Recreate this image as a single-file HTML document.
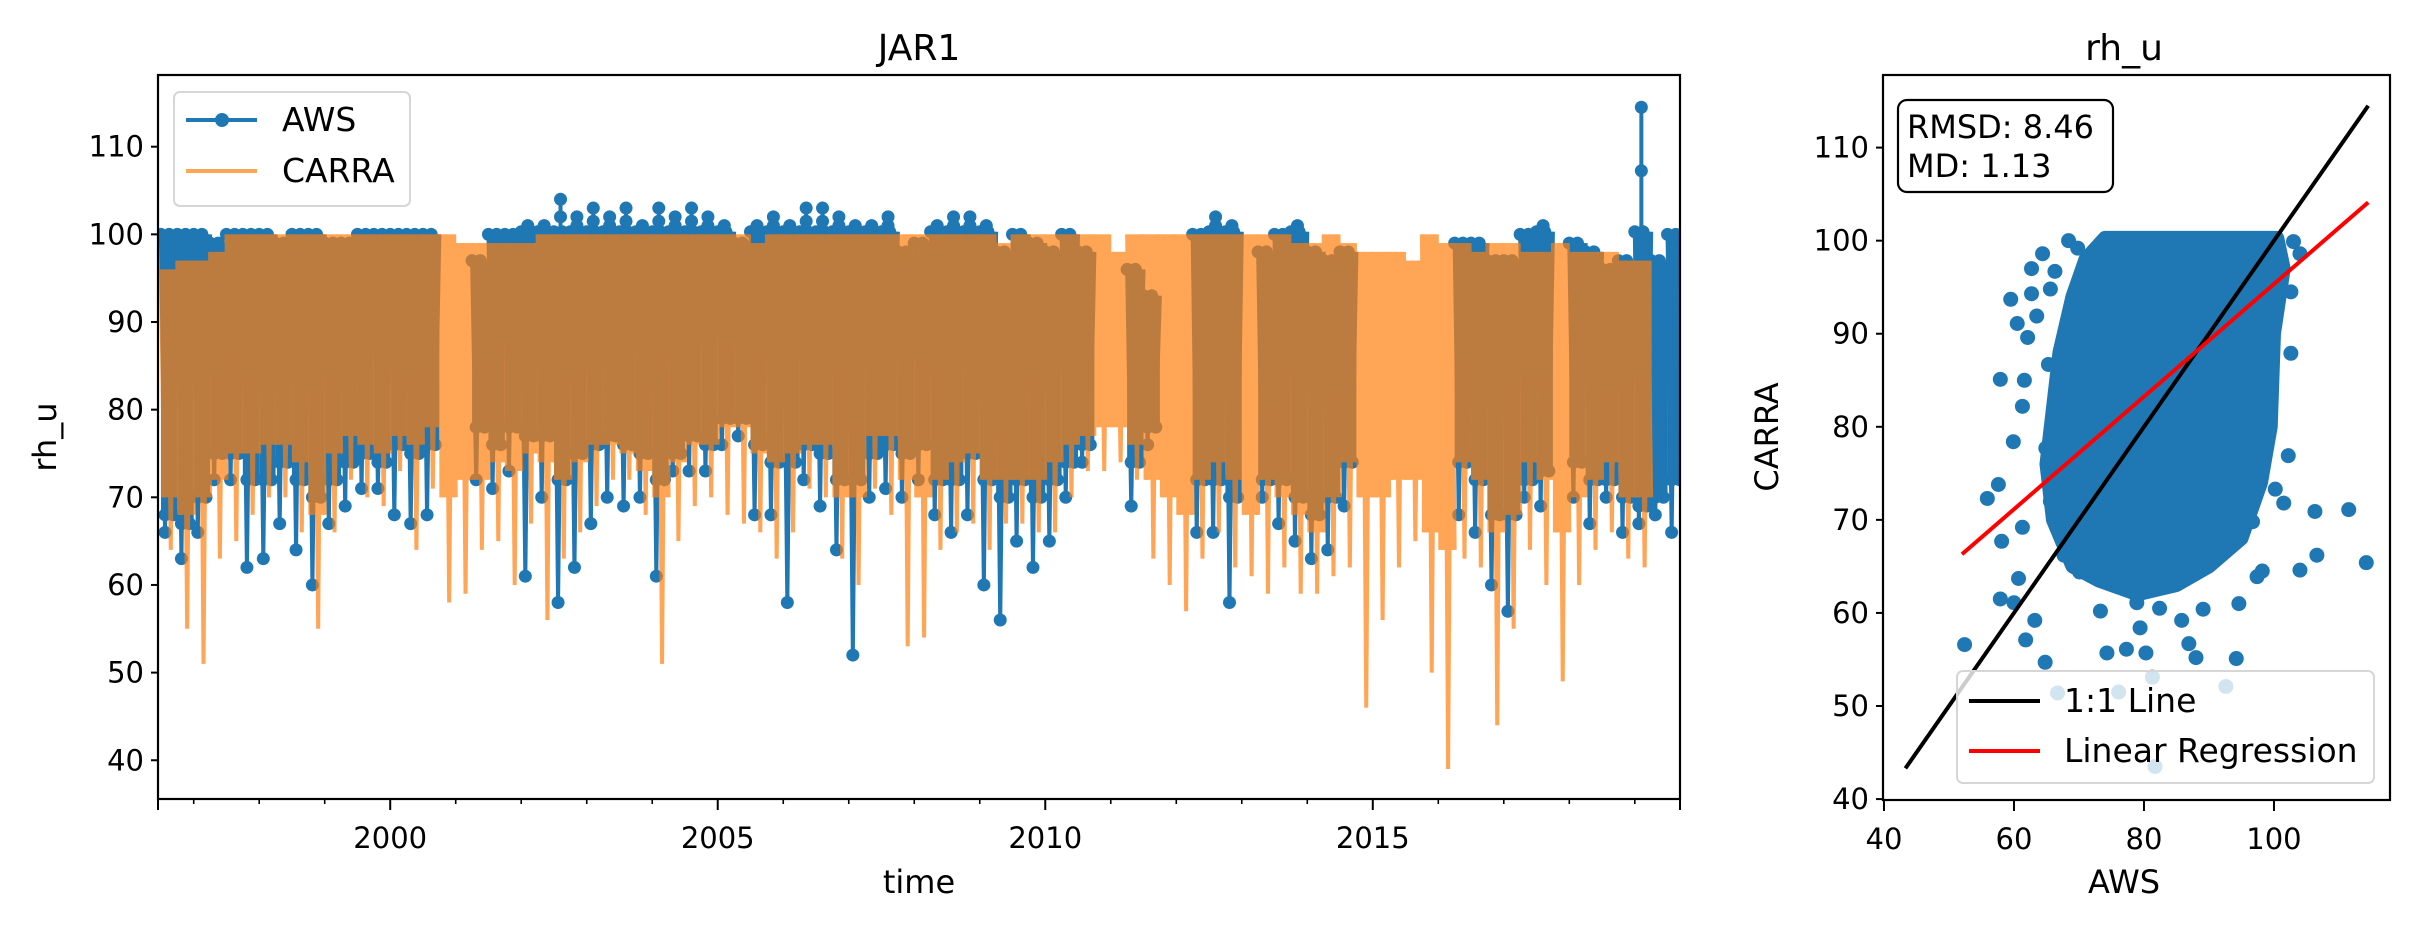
<!DOCTYPE html>
<html>
<head>
<meta charset="utf-8">
<style>
html,body{margin:0;padding:0;background:#fff;}
svg{display:block;}
text{font-family:"DejaVu Sans","Liberation Sans",sans-serif;fill:#000;}
</style>
</head>
<body>
<svg id="fig" width="2414" height="926" viewBox="0 0 2414 926" xmlns="http://www.w3.org/2000/svg">
  <rect x="0" y="0" width="2414" height="926" fill="#fff"/>
  <g id="left">
    <g id="tsMarks"></g>
    <rect x="158" y="75" width="1522" height="724" fill="none" stroke="#000" stroke-width="2.2"/>
    <g id="tsAxes"></g>
    <text x="919" y="60" font-size="36" text-anchor="middle">JAR1</text>
    <text x="919" y="893" font-size="32" text-anchor="middle">time</text>
    <text transform="translate(56,437) rotate(-90)" font-size="32" text-anchor="middle">rh_u</text>
    <g>
      <rect x="174" y="92" width="236" height="114" rx="6" fill="#fff" fill-opacity="0.8" stroke="#d6d6d6" stroke-width="2"/>
      <g>
        <line x1="186" y1="120" x2="257" y2="120" stroke="#1f77b4" stroke-width="4"/>
        <circle cx="222" cy="120" r="7" fill="#1f77b4"/>
        <text x="282" y="131" font-size="33">AWS</text>
      </g>
      <g>
        <line x1="186" y1="171" x2="257" y2="171" stroke="#ff7f0e" stroke-opacity="0.7" stroke-width="4"/>
        <text x="282" y="182" font-size="33">CARRA</text>
      </g>
    </g>
  </g>
  <g id="right">
    <g id="scMarks"></g>
    <rect x="1883" y="75" width="507" height="725" fill="none" stroke="#000" stroke-width="2.2"/>
    <g id="scAxes"></g>
    <text x="2124" y="60" font-size="36" text-anchor="middle">rh_u</text>
    <text x="2124" y="893" font-size="32" text-anchor="middle">AWS</text>
    <text transform="translate(1778,437) rotate(-90)" font-size="32" text-anchor="middle">CARRA</text>
    <g>
      <rect x="1898" y="100" width="215" height="92" rx="9" fill="#fff" stroke="#000" stroke-width="2.2"/>
      <text x="1907" y="138" font-size="32">RMSD: 8.46</text>
      <text x="1907" y="177" font-size="32">MD: 1.13</text>
    </g>
    <g>
      <rect x="1957" y="671" width="417" height="112" rx="6" fill="#fff" fill-opacity="0.8" stroke="#d6d6d6" stroke-width="2"/>
      <g>
        <line x1="1969" y1="701" x2="2040" y2="701" stroke="#000" stroke-width="4"/>
        <text x="2064" y="712" font-size="33">1:1 Line</text>
      </g>
      <g>
        <line x1="1969" y1="751" x2="2040" y2="751" stroke="#ff0000" stroke-width="4"/>
        <text x="2064" y="762" font-size="33">Linear Regression</text>
      </g>
    </g>
  </g>
</svg>
<script>
// ---------- time series data (quarter-year bins starting 1996.5) ----------
const binStart = 1996.5;
const binWidth = 0.25;
const carraHi = [96,97,97,98,100,100,100,100,100,100,100,100,100,100,100,100,100,100,99,99,99,99,99,100,100,100,100,100,100,100,100,100,100,100,100,100,99,100,100,100,100,100,100,100,100,100,
                 100,100,100,100,100,99,100,100,100,100,100,100,98,100,100,100,100,100,100,100,100,100,100,99,99,100,99,98,98,98,97,100,99,99,98,99,99,98,98,99,98,98,98,97,97];
const carraLo = [70,68,70,72,75,75,76,76,74,68,75,77,76,75,77,76,78,70,72,72,74,73,75,74,72,74,76,76,75,73,70,74,76,76,78,78,75,74,75,76,76,70,70,77,77,72,
                 70,72,74,75,72,72,72,72,74,76,77,78,78,76,72,70,68,72,74,72,68,72,70,68,66,70,74,70,70,72,72,66,64,74,72,66,68,74,72,66,70,72,74,70,70,72,74];
const carraMin = [64,55,51,63,65,68,70,70,66,55,66,72,70,69,73,64,71,58,59,64,65,60,67,56,63,66,69,72,72,68,51,65,69,70,68,67,66,63,66,71,70,63,60,71,68,53,
                  54,64,66,67,64,67,67,66,66,70,73,73,74,72,63,60,57,63,66,62,61,59,62,59,59,61,62,46,56,62,65,50,39,63,62,44,55,64,60,49,60,64,66,63,62,66,66];
const awsHi = [100,100,100,99,100,100,100,99,100,100,99,99,100,100,100,100,100,null,null,97,100,100,101,101,104,102,103,102,103,101,103,102,103,102,101,99,101,102,101,103,103,102,101,101,102,98,
               99,101,102,102,101,98,100,99,98,100,98,null,null,96,93,null,null,100,102,101,null,98,100,101,98,97,98,null,null,null,null,null,null,99,99,97,97,100,101,null,99,98,96,97,114.5,97,100];
const awsLo = [68,67,70,75,75,72,72,74,72,70,72,74,75,74,76,75,76,null,null,78,76,78,77,77,72,75,76,77,76,75,72,75,77,76,79,79,76,74,74,76,75,72,72,75,76,75,
               76,72,72,75,72,70,72,70,72,74,76,null,null,74,78,null,null,72,72,70,null,72,72,70,68,70,74,null,null,null,null,null,null,74,72,68,68,72,73,null,74,72,72,70,69,70,72];
const awsMin = [66,63,66,72,72,62,63,67,64,60,67,69,71,71,68,67,68,null,null,72,71,73,61,70,58,62,67,70,69,70,61,73,73,73,76,77,68,68,58,72,69,64,52,70,71,70,
                72,68,66,68,60,56,65,62,65,70,74,null,null,69,76,null,null,66,66,58,null,70,67,65,63,64,69,null,null,null,null,null,null,68,66,60,57,70,69,null,70,67,70,66,67,68,66];
const yTickVals = [40,50,60,70,80,90,100,110];
const xMajorYears = [2000,2005,2010,2015];
const xMajorLabels = ["2000","2005","2010","2015"];

// ---------- scatter data ----------
const coreAws =   [74,100.5,101.5,100,99.5,98,95,90,85,79,73,69,66,65,66,67,69,71];
const coreCarra = [100.3,100.3,97,90,80,74,68,65,63,62,63.5,65,70,76,82,88,94,98];
const ptAws =   [57.9,59.5,60.5,62.7,64.4,62.7,63.5,62.1,61.6,61.3,59.9,57.6,55.9,58.1,61.3,60.7,57.9,60.0,52.4,61.8,63.2,64.8,66.7,74.3,77.3,76.1,80.3,81.3,81.7,86.9,88.0,94.2,92.6,94.6,89.1,85.8,79.4,97.4,98.2,96.7,101.5,100.2,106.3,111.5,106.6,104.0,114.2,102.2,102.6,102.6,104.0,103.0,68.4,69.8,66.3,65.6,71.2,72.6,65.3,66.3,64.9,65.6,67.7,70.1,73.3,78.9,82.4];
const ptCarra = [85.1,93.7,91.1,97.0,98.6,94.3,91.9,89.6,85.0,82.2,78.4,73.8,72.3,67.7,69.2,63.7,61.5,61.1,56.6,57.1,59.2,54.7,51.4,55.7,56.1,51.5,55.7,53.1,43.5,56.7,55.2,55.1,52.1,61.0,60.4,59.2,58.4,63.9,64.5,69.8,71.8,73.3,70.9,71.1,66.2,64.6,65.4,76.9,87.9,94.5,98.6,99.9,100,99.2,96.7,94.8,95.4,93.5,86.7,81.1,77.7,72.0,66.2,64.4,60.2,61.1,60.5];
const oneToOne = [43.3,114.5];
const regX = [52,114.5];
const regSlope = 0.605;
const regIntercept = 34.84;
const scTickVals = [40,50,60,70,80,90,100,110];
const scXTickVals = [40,60,80,100];

const NS = "http://www.w3.org/2000/svg";
function mk(tag, attrs, parent){
  const e = document.createElementNS(NS, tag);
  for (const k in attrs) e.setAttribute(k, attrs[k]);
  parent.appendChild(e);
  return e;
}

const L = {x0:158, x1:1680, y0:75, y1:799, t0:1996.455, t1:2019.69, v0:35.58, v1:118.18};
function tx(t){ return L.x0 + (t - L.t0) / (L.t1 - L.t0) * (L.x1 - L.x0); }
function vy(v){ return L.y1 - (v - L.v0) / (L.v1 - L.v0) * (L.y1 - L.y0); }
const R = {x0:1883, x1:2390, y0:75, y1:800, a0:39.85, a1:117.85, c0:39.9, c1:117.8};
function sx(v){ return R.x0 + (v - R.a0) / (R.a1 - R.a0) * (R.x1 - R.x0); }
function sy(v){ return R.y1 - (v - R.c0) / (R.c1 - R.c0) * (R.y1 - R.y0); }

const tsMarks = document.getElementById('tsMarks');
mk('clipPath', {id:'tsClip'}, tsMarks);
mk('rect', {x:L.x0, y:L.y0, width:L.x1-L.x0, height:L.y1-L.y0}, document.getElementById('tsClip'));
const awsG = mk('g', {'clip-path':'url(#tsClip)'}, tsMarks);


const carraG = mk('g', {'clip-path':'url(#tsClip)', opacity:'0.7'}, tsMarks);



const BLUE = '#1f77b4', ORANGE = '#ff7f0e';
for (let i = 0; i < awsHi.length; i++){
  if (awsHi[i] === null) continue;
  const a = binStart + i*binWidth, b = a + binWidth;
  const xa = tx(a), xb = tx(b), w = xb - xa;
  const top = Math.min(awsHi[i], 100.3);
  const r = mk('rect', {x:xa, y:vy(top), width:w, height:vy(awsLo[i])-vy(top), fill:BLUE}, awsG);
  
  
  const pts = [[xa,top],[xa+w*0.25,awsMin[i]],[xa+w*0.5,top],[xa+w*0.75,awsLo[i]],[xb,top]];
  const pl = mk('polyline', {points: pts.map(p => p[0]+','+vy(p[1])).join(' '), fill:'none', stroke:BLUE, 'stroke-width':4}, awsG);
  
  
  [[xa+w*0.25,awsMin[i]],[xa+w*0.75,awsLo[i]],[xa,top],[xa+w*0.5,top],[xa+w*0.25,awsLo[i]]].forEach(p => {
    const c = mk('circle', {cx:p[0], cy:vy(p[1]), r:6.5, fill:BLUE}, awsG);
    
    
  });
  if (awsHi[i] > 100.3){
    const xs = xa + w*0.4;
    const s2 = mk('line', {x1:xs, y1:vy(100), x2:xs, y2:vy(awsHi[i]), stroke:BLUE, 'stroke-width':4}, awsG);
    
    
    [awsHi[i], (awsHi[i]+100)/2].forEach(v => {
      const c = mk('circle', {cx:xs, cy:vy(v), r:6.5, fill:BLUE}, awsG);
      
      
    });
  }
}
for (let i = 0; i < carraHi.length; i++){
  const a = binStart + i*binWidth, b = a + binWidth;
  const xa = tx(a), xb = tx(b), w = xb - xa;
  const r = mk('rect', {x:xa, y:vy(carraHi[i]), width:w+0.5, height:vy(carraLo[i])-vy(carraHi[i]), fill:ORANGE}, carraG);
  
  
  const pts = [[xa,carraHi[i]],[xa+w*0.2,carraLo[i]],[xa+w*0.4,carraHi[i]],[xa+w*0.6,carraMin[i]],[xa+w*0.8,carraHi[i]],[xb,carraLo[i]]];
  const pl = mk('polyline', {points: pts.map(p => p[0]+','+vy(p[1])).join(' '), fill:'none', stroke:ORANGE, 'stroke-width':4}, carraG);
  
  
}

const tsAxes = document.getElementById('tsAxes');
yTickVals.forEach(v => {
  const y = vy(v);
  const t = mk('line', {x1:L.x0-7, y1:y, x2:L.x0, y2:y, stroke:'#000', 'stroke-width':2}, tsAxes);
  
  
  const lb = mk('text', {x:L.x0-14, y:y+10, 'font-size':29, 'text-anchor':'end'}, tsAxes);
  
  
  lb.textContent = String(v);
});
for (let yr = 1997; yr <= 2019; yr++){
  if (xMajorYears.indexOf(yr) >= 0) continue;
  const x = tx(yr);
  const t = mk('line', {x1:x, y1:L.y1, x2:x, y2:L.y1+5, stroke:'#000', 'stroke-width':1.6}, tsAxes);
  
  
}
[L.t0, L.t1].forEach(t0 => {
  const x = tx(t0);
  const t = mk('line', {x1:x, y1:L.y1, x2:x, y2:L.y1+11, stroke:'#000', 'stroke-width':2}, tsAxes);
  
  
});
xMajorYears.forEach((yr, k) => {
  const x = tx(yr);
  const t = mk('line', {x1:x, y1:L.y1, x2:x, y2:L.y1+11, stroke:'#000', 'stroke-width':2}, tsAxes);
  
  
  const lb = mk('text', {x:x, y:L.y1+49, 'font-size':29, 'text-anchor':'middle'}, tsAxes);
  
  
  lb.textContent = xMajorLabels[k];
});

const scMarks = document.getElementById('scMarks');
const core = mk('polygon', {points: coreAws.map((v,i)=> sx(v)+','+sy(coreCarra[i])).join(' '), fill:BLUE, stroke:BLUE, 'stroke-width':14, 'stroke-linejoin':'round'}, scMarks);


ptAws.forEach((v,i) => {
  const c = mk('circle', {cx:sx(v), cy:sy(ptCarra[i]), r:7.5, fill:BLUE}, scMarks);
  
  
});
const l11 = mk('line', {x1:sx(oneToOne[0]), y1:sy(oneToOne[0]), x2:sx(oneToOne[1]), y2:sy(oneToOne[1]), stroke:'#000', 'stroke-width':4}, scMarks);


const lr = mk('line', {x1:sx(regX[0]), y1:sy(regSlope*regX[0]+regIntercept), x2:sx(regX[1]), y2:sy(regSlope*regX[1]+regIntercept), stroke:'#ff0000', 'stroke-width':4}, scMarks);



const scAxes = document.getElementById('scAxes');
scTickVals.forEach(v => {
  const y = sy(v);
  const t = mk('line', {x1:R.x0-7, y1:y, x2:R.x0, y2:y, stroke:'#000', 'stroke-width':2}, scAxes);
  
  
  const lb = mk('text', {x:R.x0-14, y:y+10, 'font-size':29, 'text-anchor':'end'}, scAxes);
  
  
  lb.textContent = String(v);
});
scXTickVals.forEach(v => {
  const x = sx(v);
  const t = mk('line', {x1:x, y1:R.y1, x2:x, y2:R.y1+11, stroke:'#000', 'stroke-width':2}, scAxes);
  
  
  const lb = mk('text', {x:x, y:R.y1+49, 'font-size':29, 'text-anchor':'middle'}, scAxes);
  
  
  lb.textContent = String(v);
});
</script>
</body>
</html>
